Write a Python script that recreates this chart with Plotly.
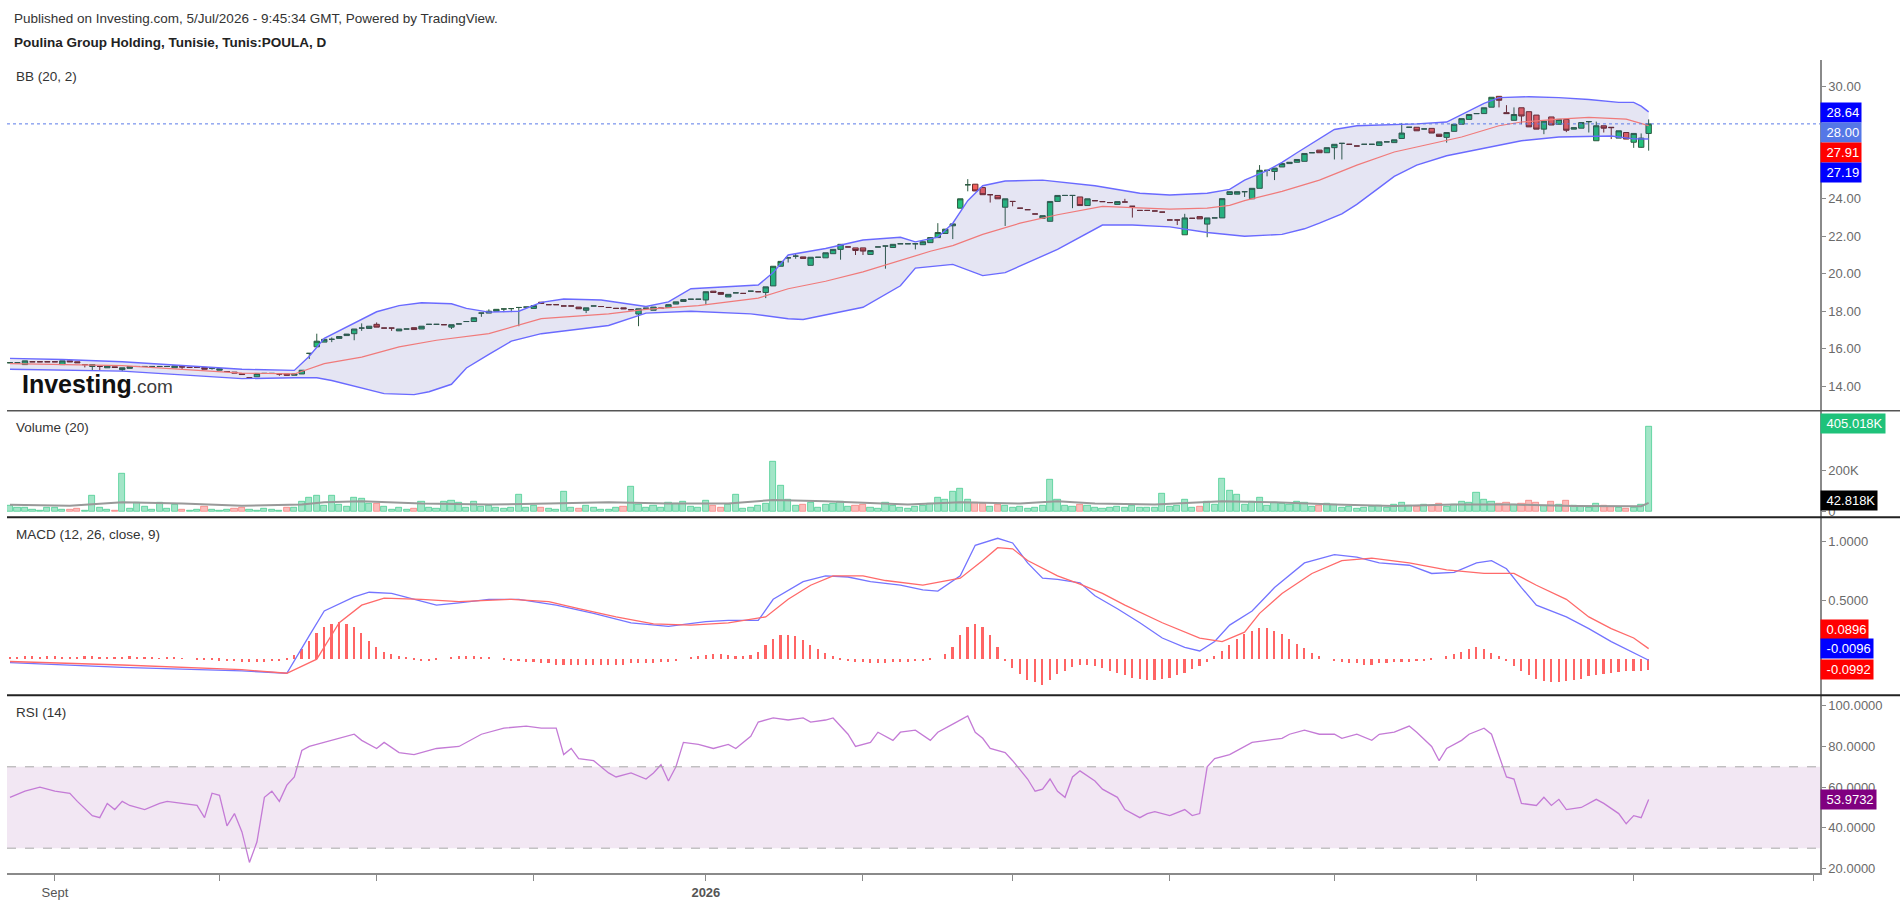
import plotly.graph_objects as go
from plotly.subplots import make_subplots

# ---- daily candles (bar index 0 = late Aug 2025, last = 3 Jul 2026) ----
opens = [
    15.25, 15.25, 15.15, 15.30, 15.30, 15.30, 15.30, 15.15, 15.35, 15.30,
    15.15, 15.05, 15.05, 14.98, 15.03, 14.88, 14.95, 15.05, 15.05, 15.05,
    15.05, 15.05, 14.98, 15.05, 15.00, 15.00, 15.00, 14.95, 14.85, 14.78,
    14.75, 14.66, 14.45, 14.50, 14.68, 14.68, 14.65, 14.65, 14.58, 14.65,
    15.75, 16.10, 16.35, 16.50, 16.55, 16.70, 16.80, 17.10, 17.08, 17.30,
    17.10, 17.10, 16.95, 17.05, 17.12, 17.05, 17.30, 17.30, 17.28, 17.15,
    17.32, 17.45, 17.45, 17.90, 17.90, 18.00, 18.12, 18.14, 18.20, 18.22,
    18.15, 18.48, 18.35, 18.35, 18.28, 18.28, 18.22, 18.05, 18.28, 18.25,
    18.20, 18.15, 18.18, 18.08, 17.85, 18.16, 18.05, 18.16, 18.20, 18.38,
    18.52, 18.64, 18.64, 18.60, 19.07, 19.00, 18.76, 18.98, 18.95, 19.07,
    19.04, 19.00, 19.35, 20.40, 20.85, 20.94, 20.90, 20.45, 20.88, 20.85,
    21.07, 21.30, 21.43, 21.38, 21.38, 21.03, 21.43, 21.48, 21.40, 21.60,
    21.60, 21.60, 21.55, 21.66, 21.93, 22.15, 22.56, 23.50, 24.75, 24.78,
    24.60, 24.22, 24.18, 23.55, 23.86, 23.50, 23.42, 23.19, 22.96, 22.80,
    23.86, 24.18, 24.18, 24.10, 23.64, 23.90, 23.85, 23.80, 23.70, 23.83,
    23.60, 23.38, 23.38, 23.35, 23.29, 22.87, 22.87, 22.08, 22.96, 23.05,
    22.65, 22.98, 22.98, 24.23, 24.25, 24.38, 24.00, 24.56, 25.52, 25.46,
    25.70, 25.88, 25.95, 26.00, 26.46, 26.60, 26.46, 26.73, 26.96, 26.91,
    26.82, 26.91, 26.91, 26.85, 27.04, 27.00, 27.22, 27.82, 27.82, 27.73,
    27.76, 27.45, 27.28, 27.60, 27.98, 28.24, 28.55, 28.55, 28.89, 29.47,
    28.60, 28.19, 28.86, 28.65, 28.47, 27.72, 28.37, 27.98, 28.24, 27.72,
    27.77, 28.12, 27.10, 27.90, 27.82, 27.24, 27.54, 27.02, 26.75, 27.49,
]
closes = [
    15.25, 15.25, 15.35, 15.30, 15.30, 15.30, 15.30, 15.35, 15.30, 15.25,
    15.15, 15.15, 15.05, 15.08, 15.00, 14.98, 15.05, 15.05, 15.05, 15.05,
    15.05, 15.05, 15.08, 15.02, 15.00, 15.00, 14.90, 14.95, 14.93, 14.78,
    14.70, 14.62, 14.45, 14.68, 14.68, 14.68, 14.65, 14.58, 14.65, 14.85,
    15.75, 16.40, 16.50, 16.50, 16.65, 16.78, 17.05, 17.10, 17.20, 17.15,
    17.10, 17.10, 17.05, 17.05, 17.02, 17.20, 17.30, 17.30, 17.28, 17.28,
    17.32, 17.45, 17.65, 17.90, 18.00, 18.10, 18.12, 18.14, 18.20, 18.22,
    18.30, 18.42, 18.35, 18.35, 18.28, 18.28, 18.13, 18.18, 18.28, 18.25,
    18.20, 18.15, 18.13, 18.08, 18.13, 18.16, 18.22, 18.16, 18.35, 18.50,
    18.62, 18.64, 18.64, 19.04, 19.00, 18.90, 18.90, 18.98, 18.95, 19.07,
    19.04, 19.30, 20.40, 20.66, 20.85, 20.94, 20.82, 20.88, 20.88, 21.12,
    21.30, 21.57, 21.43, 21.24, 21.21, 21.24, 21.43, 21.48, 21.57, 21.60,
    21.60, 21.60, 21.71, 21.93, 22.20, 22.38, 22.66, 24.00, 24.75, 24.42,
    24.22, 24.22, 24.00, 24.00, 23.86, 23.50, 23.42, 23.19, 23.10, 23.86,
    24.18, 24.18, 24.18, 23.64, 24.00, 23.90, 23.85, 23.80, 23.85, 23.83,
    23.60, 23.38, 23.38, 23.35, 23.29, 22.87, 22.87, 22.98, 22.96, 22.93,
    22.98, 22.98, 24.01, 24.38, 24.38, 24.38, 24.56, 25.52, 25.52, 25.64,
    25.88, 25.95, 26.10, 26.42, 26.46, 26.46, 26.73, 26.91, 26.96, 26.91,
    26.82, 26.91, 26.91, 27.04, 27.04, 27.15, 27.51, 27.82, 27.63, 27.73,
    27.51, 27.33, 27.54, 27.98, 28.28, 28.50, 28.55, 28.86, 29.42, 29.26,
    28.55, 28.50, 28.42, 27.84, 27.72, 28.15, 27.94, 28.24, 27.66, 27.80,
    28.07, 28.12, 27.90, 27.77, 27.80, 27.63, 27.19, 27.49, 27.24, 28.00,
]
# visible wicks (bar index -> price), other bars have no wick
wick_high = {40: 15.75, 41: 16.8, 43: 16.6, 47: 17.35, 49: 17.4, 64: 18.1,
             105: 21.1, 124: 22.7, 128: 25.05, 149: 24.0, 157: 23.2, 167: 25.8,
             186: 28.05, 200: 29.0, 201: 28.88, 212: 28.12, 218: 27.49, 219: 28.24}
wick_low = {10: 15.0, 11: 14.85, 12: 14.85, 15: 14.8, 23: 14.9, 27: 14.88,
            36: 14.55, 40: 15.45, 43: 16.35, 46: 16.45, 47: 16.95, 51: 16.95,
            59: 17.05, 63: 17.7, 66: 17.95, 67: 17.95, 68: 17.2, 77: 17.9,
            84: 17.2, 93: 18.35, 101: 18.7, 104: 20.6, 105: 20.8, 111: 20.75,
            113: 21.0, 114: 21.0, 117: 20.27, 121: 21.3, 126: 21.85, 128: 24.4,
            131: 23.8, 133: 22.55, 134: 23.6, 142: 23.5, 150: 23.0, 156: 22.6,
            160: 21.95, 165: 24.1, 168: 25.2, 169: 25.0, 177: 26.1, 178: 26.1,
            192: 27.0, 199: 28.88, 202: 27.98, 205: 27.45, 208: 27.56, 211: 27.54,
            213: 27.54, 214: 27.19, 217: 26.72, 218: 26.72, 219: 26.57}

# volume in thousands of shares
volume_k = [
    31, 18, 22, 10, 8, 20, 22, 12, 9, 14,
    8, 78, 20, 10, 6, 183, 15, 42, 25, 12,
    42, 14, 35, 10, 8, 12, 26, 10, 6, 12,
    15, 18, 10, 8, 14, 9, 6, 20, 18, 47,
    70, 78, 30, 78, 35, 25, 70, 65, 40, 40,
    26, 12, 18, 10, 15, 47, 20, 14, 51, 54,
    42, 20, 47, 25, 30, 20, 15, 18, 80, 22,
    30, 18, 15, 12, 97, 20, 14, 30, 18, 12,
    10, 20, 25, 120, 35, 18, 30, 20, 45, 40,
    50, 25, 18, 55, 30, 20, 35, 80, 15, 20,
    30, 40, 240, 126, 60, 30, 35, 45, 20, 35,
    40, 50, 25, 30, 35, 20, 15, 45, 30, 20,
    15, 25, 30, 40, 70, 60, 95, 110, 60, 45,
    40, 25, 35, 30, 20, 25, 15, 20, 30, 154,
    60, 30, 25, 35, 30, 20, 15, 20, 25, 18,
    30, 22, 18, 20, 86, 25, 30, 60, 20, 25,
    50, 35, 160, 100, 80, 35, 50, 70, 30, 45,
    40, 35, 50, 45, 25, 30, 40, 35, 20, 25,
    15, 20, 25, 30, 20, 35, 45, 30, 25, 35,
    30, 40, 25, 35, 50, 45, 91, 60, 50, 40,
    45, 35, 40, 55, 45, 30, 50, 35, 55, 30,
    25, 20, 40, 30, 25, 20, 15, 20, 35, 405.018,
]
vol_ma_at = [0, 8, 15, 23, 31, 39, 42, 47, 55, 64, 72, 80, 88, 96, 102, 109,
             120, 127, 135, 140, 145, 153, 162, 169, 177, 185, 193, 201, 209, 216, 218, 219]
vol_ma_k = [34, 30, 46, 40, 30, 35, 46, 51, 40, 35, 40, 46, 40, 40, 57, 51,
            35, 46, 40, 51, 40, 35, 51, 46, 35, 28, 35, 35, 28, 28, 27, 42.818]

# Bollinger bands (20, 2), read at selected bars
bb_up_at = [0, 7, 15, 23, 31, 38, 40, 42, 46, 49, 52, 55, 59, 61, 64, 68, 71, 74, 79, 83,
            85, 88, 91, 100, 102, 104, 109, 114, 119, 121, 124, 126, 128, 130, 133, 138,
            142, 145, 148, 151, 155, 160, 163, 165, 168, 170, 172, 175, 177, 180, 184, 188,
            192, 194, 197, 199, 203, 207, 211, 215, 217, 218, 219]
bb_up = [15.48, 15.42, 15.3, 15.1, 14.9, 14.84, 15.6, 16.55, 17.35, 17.97, 18.3, 18.45,
         18.4, 18.15, 17.95, 18.0, 18.47, 18.65, 18.6, 18.35, 18.25, 18.5, 19.2, 19.4,
         20.06, 21.0, 21.35, 21.8, 21.95, 21.7, 21.95, 22.7, 23.9, 24.7, 24.95, 25.0, 24.85,
         24.7, 24.5, 24.3, 24.2, 24.3, 24.5, 25.0, 25.5, 25.95, 26.46, 27.2, 27.7, 27.9,
         27.95, 28.0, 28.1, 28.5, 29.1, 29.4, 29.45, 29.4, 29.3, 29.15, 29.15, 28.95, 28.64]
bb_mid_at = [0, 15, 31, 38, 42, 47, 52, 57, 64, 71, 80, 85, 92, 100, 104, 109, 114, 119,
             123, 126, 130, 135, 140, 146, 151, 155, 160, 163, 165, 170, 175, 180, 185, 190,
             194, 199, 202, 207, 211, 216, 219]
bb_mid = [15.2, 15.1, 14.7, 14.65, 15.2, 15.55, 16.1, 16.45, 16.8, 17.6, 17.86, 18.1, 18.3,
          18.7, 19.2, 19.6, 20.1, 20.7, 21.2, 21.5, 22.1, 22.7, 23.15, 23.6, 23.5, 23.45,
          23.5, 23.65, 23.9, 24.4, 25.0, 25.8, 26.5, 26.95, 27.3, 27.9, 28.1, 28.25, 28.35,
          28.25, 27.91]
bb_low_at = [0, 7, 15, 23, 31, 38, 41, 43, 47, 50, 54, 56, 59, 61, 64, 67, 71, 80, 85, 91,
             99, 104, 106, 114, 119, 121, 126, 130, 133, 140, 146, 150, 155, 160, 165, 170,
             173, 175, 178, 180, 183, 185, 188, 192, 197, 202, 207, 211, 214, 217, 219]
bb_low = [14.9, 14.85, 14.8, 14.6, 14.4, 14.45, 14.45, 14.3, 13.9, 13.6, 13.55, 13.7, 14.1,
          14.97, 15.7, 16.4, 16.8, 17.24, 17.9, 18.0, 17.86, 17.6, 17.56, 18.21, 19.36, 20.3,
          20.5, 19.9, 20.06, 21.3, 22.6, 22.6, 22.5, 22.2, 22.0, 22.1, 22.4, 22.7, 23.2, 23.7,
          24.6, 25.2, 25.8, 26.3, 26.7, 27.1, 27.3, 27.35, 27.35, 27.2, 27.19]

# MACD (12, 26, close, 9)
macd_at = [0, 15, 31, 37, 40, 42, 46, 48, 51, 54, 57, 60, 64, 68, 73, 78, 83, 88, 93, 96,
           100, 102, 106, 109, 112, 115, 119, 122, 124, 127, 129, 132, 134, 136, 138, 140,
           143, 145, 148, 151, 154, 157, 159, 161, 163, 166, 169, 173, 177, 180, 183, 187,
           190, 193, 196, 198, 200, 202, 204, 208, 211, 214, 217, 219]
macd = [-0.03, -0.07, -0.1, -0.12, 0.2, 0.41, 0.53, 0.57, 0.56, 0.51, 0.46, 0.48, 0.51,
        0.51, 0.46, 0.39, 0.31, 0.28, 0.32, 0.33, 0.33, 0.51, 0.66, 0.71, 0.70, 0.66, 0.63,
        0.59, 0.58, 0.71, 0.97, 1.03, 0.99, 0.82, 0.69, 0.68, 0.65, 0.54, 0.43, 0.31, 0.18,
        0.1, 0.07, 0.15, 0.29, 0.41, 0.61, 0.82, 0.89, 0.87, 0.82, 0.8, 0.73, 0.74, 0.82,
        0.84, 0.77, 0.61, 0.46, 0.36, 0.26, 0.15, 0.05, -0.0096]
signal_at = [0, 15, 31, 37, 41, 44, 47, 50, 55, 60, 67, 72, 76, 81, 86, 91, 96, 101, 104,
             107, 110, 114, 117, 122, 127, 130, 132, 134, 136, 140, 143, 146, 149, 154, 159,
             162, 165, 167, 170, 174, 178, 182, 187, 192, 197, 201, 204, 208, 211, 214, 217, 219]
signal = [-0.02, -0.05, -0.09, -0.12, 0.0, 0.31, 0.46, 0.52, 0.51, 0.49, 0.51, 0.49, 0.43,
          0.36, 0.3, 0.29, 0.31, 0.36, 0.51, 0.63, 0.71, 0.71, 0.67, 0.63, 0.69, 0.84, 0.95,
          0.94, 0.84, 0.71, 0.64, 0.56, 0.46, 0.31, 0.18, 0.15, 0.23, 0.39, 0.56, 0.73, 0.84,
          0.86, 0.82, 0.76, 0.73, 0.73, 0.63, 0.51, 0.36, 0.26, 0.18, 0.0896]
macd_hist = [
    0.01, 0.015, 0.02, 0.02, 0.015, 0.02, 0.02, 0.015, 0.01, 0.015,
    0.02, 0.02, 0.015, 0.01, 0.01, 0.015, 0.02, 0.015, 0.01, 0.01,
    0.005, 0.01, 0.01, 0.005, 0.0,
    -0.005, -0.01, -0.01, -0.015, -0.02, -0.02, -0.025, -0.03, -0.03, -0.025, -0.02, -0.02, -0.01,
    0.03, 0.08, 0.15, 0.22, 0.27, 0.30, 0.31, 0.30, 0.27, 0.22, 0.15, 0.10, 0.06, 0.04,
    0.02, 0.01, -0.01, -0.02, -0.02, -0.01, 0.0, 0.01, 0.02, 0.02, 0.02, 0.01, 0.01, 0.0,
    -0.01, -0.02, -0.02, -0.03, -0.03, -0.04, -0.04, -0.05, -0.05,
    -0.05, -0.05, -0.05, -0.05, -0.05, -0.05, -0.05, -0.05, -0.04, -0.04, -0.04, -0.04,
    -0.03, -0.03, -0.02,
    0.0, 0.01, 0.02, 0.03, 0.04, 0.04, 0.03, 0.02, 0.02,
    0.03, 0.06, 0.12, 0.17, 0.2, 0.2, 0.19, 0.16, 0.12, 0.08, 0.05, 0.02,
    -0.01, -0.02, -0.03, -0.03, -0.04, -0.04, -0.04, -0.03, -0.03, -0.03, -0.02, -0.02, -0.01, 0.0,
    0.04, 0.1, 0.2, 0.27, 0.3, 0.27, 0.2, 0.1,
    -0.02, -0.08, -0.13, -0.18, -0.2, -0.22, -0.18, -0.13, -0.1, -0.07, -0.05, -0.05, -0.06,
    -0.08, -0.1, -0.12, -0.14, -0.16, -0.17, -0.18, -0.18, -0.17, -0.16, -0.14, -0.12,
    -0.09, -0.06, -0.03,
    0.02, 0.07, 0.12, 0.17, 0.21, 0.24, 0.26, 0.26, 0.24, 0.21, 0.17, 0.13, 0.09, 0.05, 0.02, 0.0,
    -0.02, -0.03, -0.04, -0.04, -0.05, -0.05, -0.04, -0.04, -0.03, -0.03, -0.03, -0.02,
    -0.02, -0.01, 0.0, 0.02, 0.04, 0.06, 0.08,
    0.1, 0.08, 0.05, 0.02,
    -0.02, -0.06, -0.1, -0.14, -0.17, -0.19, -0.2, -0.2, -0.19, -0.18, -0.17, -0.15, -0.14,
    -0.13, -0.12, -0.11, -0.1, -0.1, -0.1, -0.0992,
]

# RSI (14)
rsi_at = [0, 2, 4, 6, 8, 9, 11, 12, 13, 14, 15, 16, 18, 20, 21, 23, 25, 26, 27, 28, 29, 30,
          31, 32, 33, 34, 35, 36, 37, 38, 39, 40, 42, 44, 46, 47, 49, 50, 52, 54, 55, 57, 60,
          63, 66, 69, 71, 73, 74, 75, 76, 78, 80, 81, 83, 85, 86, 87, 88, 89, 90, 92, 94, 96,
          97, 99, 100, 102, 104, 106, 107, 109, 110, 112, 113, 115, 116, 118, 119, 121, 123,
          124, 126, 128, 129, 130, 131, 133, 134, 136, 137, 138, 139, 140, 141, 142, 143, 145,
          146, 148, 149, 151, 152, 153, 155, 157, 158, 159, 160, 161, 163, 165, 166, 168, 170,
          171, 173, 175, 177, 178, 180, 182, 183, 185, 187, 188, 190, 191, 192, 194, 195, 197,
          198, 200, 201, 202, 204, 205, 206, 207, 208, 210, 212, 213, 215, 216, 217, 218, 219]
rsi = [55, 58, 60, 58, 57, 53, 46, 45, 52, 49, 53, 51, 49, 52, 53, 52, 51, 45, 57, 56, 41, 47,
       38, 23, 33, 55, 58, 53, 61, 65, 78, 80, 82, 84, 86, 83, 79, 82, 77, 76, 77, 79, 80,
       86, 89, 90, 89, 89, 76, 79, 74, 73, 67, 65, 67, 64, 67, 71, 63, 70, 82, 81, 79, 81,
       79, 85, 92, 94, 93, 94, 92, 93, 94, 86, 80, 82, 87, 83, 87, 88, 83,
       87, 91, 95, 87, 84, 79, 77, 73, 64, 58, 59, 64, 58, 55, 65, 68, 63,
       59, 55, 49, 45, 47, 48, 46, 49, 46, 47, 70, 74, 76, 80, 82, 83, 84,
       86, 88, 86, 86, 84, 86, 83, 86, 87, 90, 87, 80, 73, 79, 83, 86, 89,
       86, 65, 64, 52, 51, 55, 51, 54, 49, 50, 54, 52, 47, 42, 46, 45, 53.9732]

# x axis: first bar of each month (Sep 2025 .. Aug 2026)
month_start_bar = [6, 28, 49, 70, 93, 114, 134, 155, 177, 196, 217, 241]
month_labels = ["Sept", "", "", "", "<b>2026</b>", "", "", "", "", "", "", ""]

bars = list(range(len(closes)))
highs = [max(o, c, wick_high.get(i, 0)) for i, (o, c) in enumerate(zip(opens, closes))]
lows = [min(o, c, wick_low.get(i, 1e9)) for i, (o, c) in enumerate(zip(opens, closes))]

FONT = "Arial, Liberation Sans, sans-serif"
W, H = 1900, 907
L, R, T, B = 7, 80, 60, 24


def px_x(x):
    return (x - L) / (W - L - R)


def px_y(y):
    return (H - B - y) / (H - T - B)


fig = make_subplots(rows=4, cols=1, shared_xaxes=True, vertical_spacing=0,
                    row_heights=[355, 108, 180, 180])

# price panel
fig.add_trace(go.Scatter(x=bb_up_at, y=bb_up, mode="lines",
                         line=dict(color="#6a6aff", width=1.4)), row=1, col=1)
fig.add_trace(go.Scatter(x=bb_low_at, y=bb_low, mode="lines", fill="tonexty",
                         fillcolor="rgba(70,70,170,0.14)",
                         line=dict(color="#6a6aff", width=1.4)), row=1, col=1)
fig.add_trace(go.Scatter(x=bb_mid_at, y=bb_mid, mode="lines",
                         line=dict(color="#f07a7a", width=1.2)), row=1, col=1)
fig.add_trace(go.Candlestick(
    x=bars, open=opens, high=highs, low=lows, close=closes, whiskerwidth=0,
    increasing=dict(fillcolor="#22c27a", line=dict(color="#2c5a40", width=1)),
    decreasing=dict(fillcolor="#f2605c", line=dict(color="#6b2828", width=1)),
), row=1, col=1)
fig.add_hline(y=closes[-1], row=1, col=1,
              line=dict(color="#5b7be8", width=1, dash="dot"))

# volume panel
vol_colors = ["rgba(34,194,122,0.42)" if c >= o else "rgba(242,96,92,0.42)"
              for o, c in zip(opens, closes)]
vol_lines = ["rgba(34,194,122,0.75)" if c >= o else "rgba(242,96,92,0.7)"
             for o, c in zip(opens, closes)]
fig.add_trace(go.Bar(x=bars, y=[v * 1000 for v in volume_k], width=0.82,
                     marker=dict(color=vol_colors, line=dict(color=vol_lines, width=0.8))),
              row=2, col=1)
fig.add_trace(go.Scatter(x=vol_ma_at, y=[v * 1000 for v in vol_ma_k], mode="lines",
                         line=dict(color="#999999", width=2)), row=2, col=1)

# MACD panel
fig.add_trace(go.Bar(x=list(range(len(macd_hist))), y=macd_hist, width=0.22,
                     marker=dict(color="#ff6464", line=dict(width=0))), row=3, col=1)
fig.add_trace(go.Scatter(x=macd_at, y=macd, mode="lines",
                         line=dict(color="#7474ff", width=1.3)), row=3, col=1)
fig.add_trace(go.Scatter(x=signal_at, y=signal, mode="lines",
                         line=dict(color="#ff6a6a", width=1.3)), row=3, col=1)

# RSI panel (trace first so the band shapes attach to this subplot)
fig.add_trace(go.Scatter(x=rsi_at, y=rsi, mode="lines",
                         line=dict(color="#c47bd6", width=1.3)), row=4, col=1)
fig.add_hrect(y0=30, y1=70, row=4, col=1, fillcolor="rgba(150,60,160,0.12)", line_width=0,
              layer="below")
for lvl in (30, 70):
    fig.add_hline(y=lvl, row=4, col=1, line=dict(color="#a8a8a8", width=1, dash="dash"))

# axes
fig.update_xaxes(range=[-0.4, 241.9], showgrid=False, zeroline=False,
                 showticklabels=False, rangeslider_visible=False,
                 tickvals=month_start_bar, ticks="")
fig.update_xaxes(row=4, col=1, showticklabels=True, ticktext=month_labels, ticks="outside",
                 ticklen=6, tickcolor="#8a8a8a", showline=True, linecolor="#8a8a8a",
                 linewidth=2, tickfont=dict(size=13, color="#555", family=FONT))
yax = dict(side="right", showgrid=False, zeroline=False, showline=True, linecolor="#8a8a8a",
           linewidth=1.5, ticks="outside", ticklen=4, tickcolor="#8a8a8a",
           tickfont=dict(size=13, color="#6a6a6a", family=FONT))
fig.update_yaxes(row=1, col=1, range=[12.69, 31.41], tickvals=[14, 16, 18, 20, 22, 24, 30],
                 tickformat=".2f", **yax)
fig.update_yaxes(row=2, col=1, range=[-26000, 483000], tickvals=[0, 200000],
                 ticktext=["0", "200K"], **yax)
fig.update_yaxes(row=3, col=1, range=[-0.307, 1.208], tickvals=[0.5, 1.0],
                 tickformat=".4f", **yax)
fig.update_yaxes(row=4, col=1, range=[17.8, 105.2], tickvals=[20, 40, 60, 80, 100],
                 tickformat=".4f", **yax)

# panel separators
x_end = px_x(W)
for y_pix, col, wd in ((415, "#555555", 1.5), (523, "#222222", 2), (703, "#222222", 2)):
    fig.add_shape(type="line", xref="paper", yref="paper", x0=0, x1=x_end,
                  y0=px_y(y_pix), y1=px_y(y_pix), line=dict(color=col, width=wd))

# texts
texts = [
    (12, 18, "Published on Investing.com, 5/Jul/2026 - 9:45:34 GMT, Powered by TradingView.", 13.5, "#333"),
    (12, 42, "<b>Poulina Group Holding, Tunisie, Tunis:POULA, D</b>", 13.5, "#222"),
    (14, 77, "BB (20, 2)", 13.5, "#333"),
    (14, 432, "Volume (20)", 13.5, "#333"),
    (14, 540, "MACD (12, 26, close, 9)", 13.5, "#333"),
    (14, 721, "RSI (14)", 13.5, "#333"),
]
for x, y, t, s, c in texts:
    fig.add_annotation(xref="paper", yref="paper", x=px_x(x), y=px_y(y), text=t,
                       showarrow=False, xanchor="left", yanchor="middle",
                       font=dict(size=s, color=c, family=FONT))
fig.add_annotation(xref="paper", yref="paper", x=px_x(20), y=px_y(388),
                   text="<b>Investing</b><span style='font-size:19px;color:#3c3c3c'>.com</span>",
                   showarrow=False, xanchor="left", yanchor="middle",
                   font=dict(size=25, color="#111", family=FONT))

# last value labels on the price scale
last_labels = [
    (113, f"{bb_up[-1]:.2f}", "#0000ff"),
    (133, f"{closes[-1]:.2f}", "#5577e6"),
    (154, f"{bb_mid[-1]:.2f}", "#ff0000"),
    (174, f"{bb_low[-1]:.2f}", "#0000ff"),
    (428, f"{volume_k[-1]:.3f}K", "#1fc27a"),
    (506, f"{vol_ma_k[-1]:.3f}K", "#000000"),
    (636, f"{signal[-1]:.4f}", "#ff0000"),
    (656, f"{macd[-1]:.4f}", "#0000ff"),
    (677, f"{macd_hist[-1]:.4f}", "#ff0000"),
    (809, f"{rsi[-1]:.4f}", "#800080"),
]
for y, t, bg in last_labels:
    fig.add_annotation(xref="paper", yref="paper", x=1.0, y=px_y(y), text=" " + t,
                       showarrow=False, xanchor="left", yanchor="middle", bgcolor=bg,
                       borderpad=2, font=dict(size=13, color="white", family=FONT))

fig.update_layout(width=W, height=H, margin=dict(l=L, r=R, t=T, b=B),
                  paper_bgcolor="white", plot_bgcolor="white", showlegend=False,
                  bargap=0, boxgap=0.28, boxgroupgap=0, font=dict(family=FONT))

# the page's default body margin would push the chart 8px right/down
fig.write_html("out.html", config={"displayModeBar": False},
               post_script="document.body.style.margin='0';")
